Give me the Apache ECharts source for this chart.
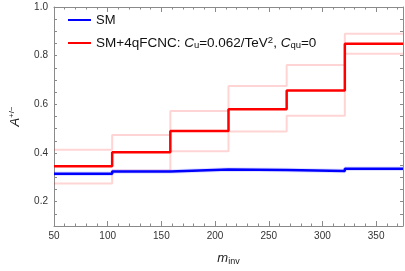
<!DOCTYPE html>
<html>
<head>
<meta charset="utf-8">
<script src="https://cdn.jsdelivr.net/npm/echarts@6/dist/echarts.min.js"></script>
<style>html,body{margin:0;padding:0;background:#fff}#c{width:405px;height:271px}</style>
</head>
<body>
<div id="c"></div>
<script>
// bin edges in m_inv
var binEdges = [50, 104.17, 158.33, 212.5, 266.67, 320.83, 375];
// asymmetry per bin
var smValues   = [0.315, 0.324, 0.332, 0.330, 0.326, 0.335];
var fcncValues = [0.346, 0.403, 0.490, 0.580, 0.657, 0.849];
var fcncUpper  = [0.413, 0.474, 0.573, 0.675, 0.762, 0.890];
var fcncLower  = [0.275, 0.328, 0.407, 0.488, 0.553, 0.808];
var yTickLabels = ['0.2', '0.4', '0.6', '0.8', '1.0'];
var xTickLabels = ['50', '100', '150', '200', '250', '300', '350'];

function stepData(vals) {
  var d = [];
  for (var i = 0; i < vals.length; i++) d.push([binEdges[i], vals[i]]);
  d.push([binEdges[binEdges.length - 1], vals[vals.length - 1]]);
  return d;
}

var frame = '#8a8a8a';
var font = 'Liberation Sans';

function xAx(pos, labels) {
  return {
    type: 'value', position: pos, min: 50, max: 375, interval: 50,
    axisLine: {show: true, onZero: false, lineStyle: {color: frame, width: 1}},
    axisTick: {show: true, inside: true, length: 5, lineStyle: {color: frame}},
    minorTick: {show: true, splitNumber: 5, length: 2.5, lineStyle: {color: frame}},
    splitLine: {show: false},
    axisLabel: {show: labels, color: '#333', fontFamily: font, fontSize: 10, margin: 5,
      formatter: function (v) { return xTickLabels.indexOf(String(v)) >= 0 ? String(v) : ''; },
      showMaxLabel: false},
    name: labels ? '{i|m}{s|inv}' : '',
    nameLocation: 'middle', nameGap: 25,
    nameTextStyle: {rich: {
      i: {fontFamily: font, fontStyle: 'italic', fontSize: 13, color: '#222'},
      s: {fontFamily: font, fontSize: 9, color: '#222', verticalAlign: 'bottom', padding: [6, 0, 0, 0]}
    }}
  };
}
function yAx(pos, labels) {
  return {
    type: 'value', position: pos, min: 0.1, max: 1.0, interval: 0.05,
    axisLine: {show: true, onZero: false, lineStyle: {color: frame, width: 1}},
    axisTick: {show: true, inside: true, length: 3, lineStyle: {color: frame}},
    splitLine: {show: false},
    axisLabel: {show: labels, color: '#333', fontFamily: font, fontSize: 10, margin: 6,
      formatter: function (v) { var s = v.toFixed(1); return (Math.abs(v * 5 - Math.round(v * 5)) < 1e-6 && yTickLabels.indexOf(s) >= 0) ? s : ''; }},
    name: labels ? '{i|A}{s|+/−}' : '',
    nameLocation: 'middle', nameGap: 32, nameRotate: 90,
    nameTextStyle: {rich: {
      i: {fontFamily: font, fontStyle: 'italic', fontSize: 13, color: '#222'},
      s: {fontFamily: font, fontSize: 8, color: '#222', verticalAlign: 'top', padding: [0, 0, 6, 0]}
    }}
  };
}

var chart = echarts.init(document.getElementById('c'), null, {renderer: 'canvas'});
var pink = 'rgba(255,0,0,0.17)';
chart.setOption({
  animation: false,
  backgroundColor: '#fff',
  grid: {left: 43, right: 2, top: 7, bottom: 42, containLabel: false},
  xAxis: [xAx('bottom', true), xAx('top', false)],
  yAxis: [yAx('left', true), yAx('right', false)],
  series: [
    {type: 'line', step: 'end', data: stepData(fcncLower), showSymbol: false, lineStyle: {color: pink, width: 2}, z: 1},
    {type: 'line', step: 'end', data: stepData(fcncUpper), showSymbol: false, lineStyle: {color: pink, width: 2}, z: 1},
    {type: 'line', step: 'end', data: stepData(smValues), showSymbol: false, lineStyle: {color: 'rgba(0,0,255,0.12)', width: 4.5}, z: 2},
    {type: 'line', step: 'end', data: stepData(smValues), showSymbol: false, lineStyle: {color: '#0000ff', width: 2.5}, z: 3},
    {type: 'line', step: 'end', data: stepData(fcncValues), showSymbol: false, lineStyle: {color: '#ff0000', width: 2.5}, z: 4}
  ],
  graphic: [
    {type: 'line', shape: {x1: 68, y1: 20, x2: 91, y2: 20}, style: {stroke: '#0000ff', lineWidth: 2}},
    {type: 'text', x: 96, y: 20, style: {text: 'SM', fontFamily: font, fontSize: 13, fill: '#111', verticalAlign: 'middle'}},
    {type: 'line', shape: {x1: 68, y1: 43, x2: 91, y2: 43}, style: {stroke: '#ff0000', lineWidth: 2}},
    {type: 'text', x: 96, y: 43, style: {
      text: '{n|SM+4qFCNC: }{i|C}{b|u}{n|=0.062/TeV}{p|2}{n|, }{i|C}{b|qu}{n|=0}',
      verticalAlign: 'middle', fill: '#111',
      rich: {
        n: {fontFamily: font, fontSize: 13.5, fill: '#111', lineHeight: 15},
        i: {fontFamily: font, fontSize: 13.5, fontStyle: 'italic', fill: '#111', lineHeight: 15},
        b: {fontFamily: font, fontSize: 9.5, fill: '#111', verticalAlign: 'bottom', lineHeight: 9},
        p: {fontFamily: font, fontSize: 9.5, fill: '#111', verticalAlign: 'top', lineHeight: 9}
      }}}
  ]
});
</script>
</body>
</html>
